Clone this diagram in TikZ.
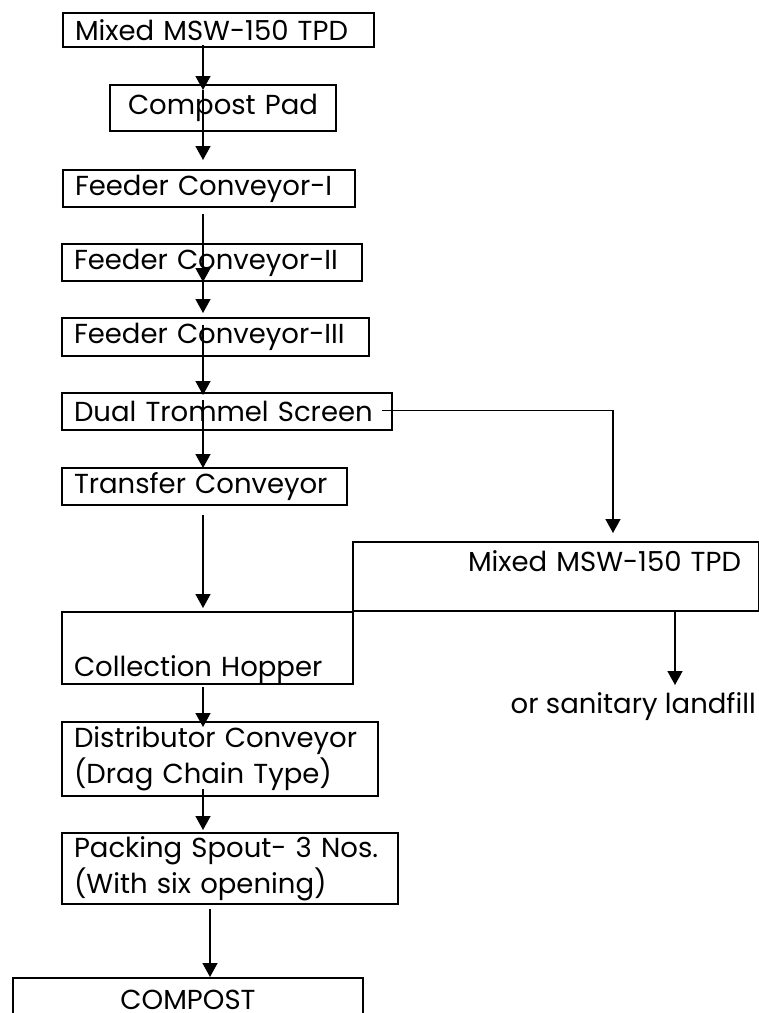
\documentclass[tikz,border=0pt]{standalone}
\usepackage{fontspec}
\setmainfont{Poppins}
\usetikzlibrary{arrows.meta,calc}
\newcommand\fsz{\fontsize{27.5}{36}\selectfont}
\tikzset{
  box/.style={draw, line width=2pt, inner sep=0pt, anchor=north west, align=left, font=\fsz},
  flow/.style={line width=1.5pt, -{Triangle[width=15pt,length=14pt]}},
}
\begin{document}
\begin{tikzpicture}[x=1pt,y=-1pt]
\clip (0,0) rectangle (759,1013);
\coordinate (spine) at (203,0);
\coordinate (drop) at (613,0);
\coordinate (fall) at (675,0);

\node [box, minimum width=311pt, minimum height=34pt, text width=287pt] (msw) at (62,12) {Mixed MSW-150 TPD};
\node [box, minimum width=226pt, minimum height=46pt, text width=206pt, align=center] (pad) at (109,84) {Compost Pad};
\node [box, minimum width=292pt, minimum height=37pt, text width=268pt] (fcone) at (62,169) {Feeder Conveyor-I};
\node [box, minimum width=300pt, minimum height=37pt, text width=276pt] (fctwo) at (61,243) {Feeder Conveyor-II};
\node [box, minimum width=307pt, minimum height=38pt, text width=283pt] (fcthree) at (61,317) {Feeder Conveyor-III};
\node [box, minimum width=330pt, minimum height=37pt, text width=306pt] (trommel) at (61,392) {Dual Trommel Screen};
\node [box, minimum width=285pt, minimum height=37pt, text width=261pt] (transfer) at (61,467) {Transfer Conveyor};
\node [box, minimum width=291pt, minimum height=72pt, text width=267pt, text height=64pt, text depth=8pt] (hopper) at (61,611) {Collection Hopper};
\node [box, minimum width=406pt, minimum height=69pt, text width=370pt, text height=29pt, text depth=40pt, align=right] (reject) at (352,541) {Mixed MSW-150 TPD};
\node [font=\fsz, inner sep=0pt, anchor=base east] (landfill) at (756,713) {or sanitary landfill};
\node [box, minimum width=316pt, minimum height=74pt, text width=292pt] (distrib) at (61,721) {Distributor Conveyor\\(Drag Chain Type)};
\node [box, minimum width=336pt, minimum height=71pt, text width=312pt] (spout) at (61,832) {Packing Spout- 3 Nos.\\(With six opening)};
\node [box, draw=none, minimum width=348pt, text width=324pt, text height=30pt, text depth=4pt, align=center] (compost) at (13,978) {COMPOST};
\draw [line width=2pt] ($(compost.north west)+(0,60)$) -- (compost.north west) -- (compost.north east) -- ($(compost.north east)+(0,60)$);

\draw [flow] ($(spine |- msw.south)+(0,-3)$) -- ($(spine |- pad.north)+(0,6)$);
\draw [flow] ($(spine |- pad.north)+(0,6)$) -- ($(spine |- fcone.north)+(0,-9)$);
\draw [flow] ($(spine |- fcone.south)+(0,6)$) -- (spine |- fctwo.south);
\draw [flow] (spine |- fctwo.south) -- ($(spine |- fcthree.north)+(0,-4)$);
\draw [flow] ($(spine |- fcthree.north)+(0,8)$) -- ($(spine |- trommel.north)+(0,3)$);
\draw [flow] ($(spine |- trommel.north)+(0,8)$) -- ($(spine |- transfer.north)+(0,1)$);
\draw [flow] ($(spine |- transfer.south)+(0,9)$) -- ($(spine |- hopper.north)+(0,-3)$);
\draw [flow] ($(spine |- hopper.south)+(0,2)$) -- ($(spine |- distrib.north)+(0,6)$);
\draw [flow] ($(spine |- distrib.south)+(0,-8)$) -- ($(spine |- spout.north)+(0,-2)$);
\draw [flow] ($(spine |- spout.south)+(7,4)$) -- ($(spine |- compost.north)+(7,-1)$);

\draw [flow] ($(trommel.east)+(-11,-1)$) -| ($(drop |- reject.north)+(0,-8)$);
\draw [flow] (fall |- reject.south) -- ($(fall |- landfill.base)+(0,-28)$);
\end{tikzpicture}
\end{document}
